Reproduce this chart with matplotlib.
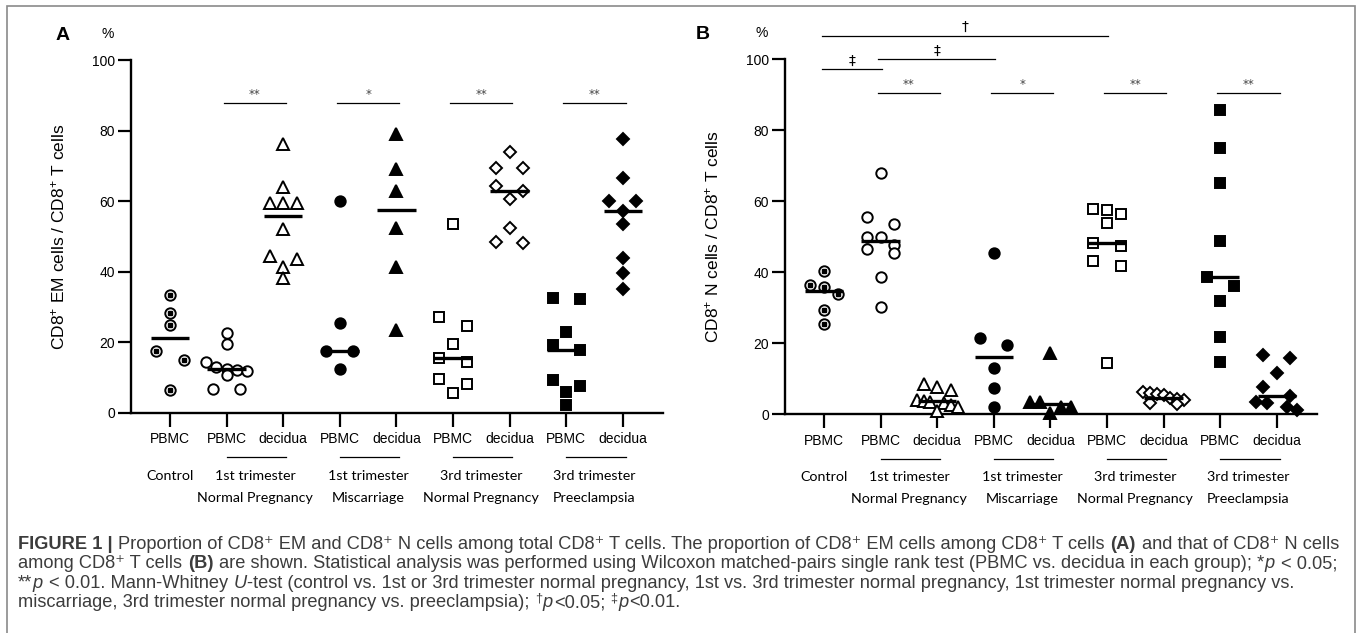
import numpy as np
import matplotlib
matplotlib.use("Agg")
import matplotlib.pyplot as plt
from matplotlib.patches import Rectangle

plt.rcParams['font.family'] = ['Liberation Sans', 'DejaVu Sans']
plt.rcParams['mathtext.fontset'] = 'custom'
plt.rcParams['mathtext.rm'] = 'Liberation Sans'
plt.rcParams['mathtext.it'] = 'Liberation Sans:italic'
plt.rcParams['mathtext.bf'] = 'Liberation Sans:bold'

# ---- data (percent) ----
tick_labels = ['PBMC', 'PBMC', 'decidua', 'PBMC', 'decidua', 'PBMC', 'decidua', 'PBMC', 'decidua']
group_names = [('Control', ''), ('1st trimester', 'Normal Pregnancy'), ('1st trimester', 'Miscarriage'),
               ('3rd trimester', 'Normal Pregnancy'), ('3rd trimester', 'Preeclampsia')]

# panel A: CD8+ EM cells / CD8+ T cells
ctrl_A = [33.5, 28.4, 25.0, 17.6, 15.0, 6.4]
np1_pbmc_A = [22.6, 19.5, 14.3, 13.0, 12.5, 12.2, 12.0, 10.8, 6.9, 6.7]
np1_dec_A = [76.1, 64.1, 59.6, 59.6, 59.6, 52.0, 44.5, 43.5, 41.4, 38.1]
mis_pbmc_A = [60.0, 25.4, 17.6, 17.6, 12.5]
mis_dec_A = [78.9, 69.0, 62.9, 52.3, 41.4, 23.5]
np3_pbmc_A = [53.4, 27.3, 24.6, 19.5, 15.7, 14.4, 9.5, 8.2, 5.6]
np3_dec_A = [74.0, 69.3, 69.3, 64.4, 62.9, 60.6, 52.5, 48.5, 48.2]
pe_pbmc_A = [32.7, 32.2, 22.9, 19.3, 17.8, 9.2, 7.5, 6.0, 2.3]
pe_dec_A = [77.6, 66.7, 60.1, 60.1, 57.2, 53.5, 43.8, 39.6, 35.0]

# panel B: CD8+ N cells / CD8+ T cells
ctrl_B = [40.5, 36.4, 35.9, 33.8, 29.4, 25.4]
np1_pbmc_B = [67.9, 55.7, 53.6, 50.0, 50.0, 47.7, 46.5, 45.4, 38.8, 30.3]
np1_dec_B = [8.5, 7.8, 6.8, 4.0, 3.8, 3.5, 3.2, 2.5, 2.0, 1.0]
mis_pbmc_B = [45.4, 21.4, 19.5, 13.0, 7.3, 2.1]
mis_dec_B = [17.2, 3.5, 3.5, 2.1, 2.1, 0.3]
np3_pbmc_B = [57.7, 57.5, 56.4, 53.8, 48.2, 47.4, 43.2, 41.8, 14.4]
np3_dec_B = [6.2, 6.0, 5.8, 5.5, 4.7, 4.3, 4.0, 3.2, 2.8]
pe_pbmc_B = [85.7, 74.9, 65.1, 48.9, 38.8, 36.2, 31.9, 21.9, 14.8]
pe_dec_B = [16.7, 15.8, 11.7, 7.8, 5.2, 3.5, 3.1, 2.1, 1.2]

data_A = [ctrl_A, np1_pbmc_A, np1_dec_A, mis_pbmc_A, mis_dec_A, np3_pbmc_A, np3_dec_A, pe_pbmc_A, pe_dec_A]
data_B = [ctrl_B, np1_pbmc_B, np1_dec_B, mis_pbmc_B, mis_dec_B, np3_pbmc_B, np3_dec_B, pe_pbmc_B, pe_dec_B]

# within-group tests (PBMC vs decidua) and between-group tests
sig_A = [(2, 3, '**'), (4, 5, '*'), (6, 7, '**'), (8, 9, '**')]
sig_B = [(2, 3, '**'), (4, 5, '*'), (6, 7, '**'), (8, 9, '**')]
between_B = [(1, 2, '‡', 97.2), (2, 4, '‡', 100.0), (1, 6, '†', 106.6)]

# caption, split into (text, style) pieces: n normal, b bold, i italic, s superscript
caption = [
    [('FIGURE 1 |', 'b'),
     (' Proportion of CD8⁺ EM and CD8⁺ N cells among total CD8⁺ T cells. The proportion of CD8⁺ EM cells '
      'among CD8⁺ T cells ', 'n'), ('(A)', 'b'), (' and that of CD8⁺ N cells', 'n')],
    [('among CD8⁺ T cells ', 'n'), ('(B)', 'b'),
     (' are shown. Statistical analysis was performed using Wilcoxon matched-pairs single rank test '
      '(PBMC vs. decidua in each group); *', 'n'), ('p', 'i'), (' < 0.05;', 'n')],
    [('**', 'n'), ('p', 'i'), (' < 0.01. Mann-Whitney ', 'n'), ('U', 'i'),
     ('-test (control vs. 1st or 3rd trimester normal pregnancy, 1st vs. 3rd trimester normal pregnancy, '
      '1st trimester normal pregnancy vs.', 'n')],
    [('miscarriage, 3rd trimester normal pregnancy vs. preeclampsia); ', 'n'), ('†', 's'), ('p', 'i'),
     ('<0.05; ', 'n'), ('‡', 's'), ('p', 'i'), ('<0.01.', 'n')],
]

markers = ['o', 'o', '^', 'o', '^', 's', 'D', 's', 'D']
filled = [False, False, False, True, True, False, False, True, True]
msizes = [7.5, 7.5, 8, 7.5, 8, 7, 6, 7, 6]


def swarm(vals, step=0.24, thr=2.85):
    vals = np.asarray(vals, float)
    order = np.argsort(-vals)
    offs = np.zeros(len(vals))
    rows, cur = [], [order[0]]
    for i in order[1:]:
        if vals[cur[0]] - vals[i] < thr:
            cur.append(i)
        else:
            rows.append(cur)
            cur = [i]
    rows.append(cur)
    for r in rows:
        n = len(r)
        if n % 2:
            g = np.arange(n) - (n - 1) / 2
        else:
            g = np.concatenate([np.arange(-(n // 2), 0), np.arange(1, n // 2 + 1)])
        sc = step * min(1.0, 1.5 / max(1.0, np.abs(g).max()))
        offs[r] = g * sc
    return offs


def panel(ax, data, ylabel, letter, letter_x, sigs, sig_y):
    for i, v in enumerate(data):
        x = i + 1
        xs = x + swarm(v)
        fc = 'k' if filled[i] else 'white'
        ax.plot(xs, v, ls='none', marker=markers[i], ms=msizes[i], mfc=fc, mec='k',
                mew=1.4, clip_on=False, zorder=3)
        if i == 0:
            ax.plot(xs, v, ls='none', marker='s', ms=2.6, mfc='k', mec='k', clip_on=False, zorder=4)
        ax.hlines(np.median(v), x - 0.34, x + 0.34, color='k', lw=2.4, zorder=5)

    ax.set_xlim(0.31, 9.71)
    ax.set_ylim(0, 100)
    ax.set_yticks([0, 20, 40, 60, 80, 100])
    ax.set_xticks(range(1, 10))
    ax.set_xticklabels(tick_labels, fontsize=10)
    ax.tick_params(axis='y', labelsize=10, length=9.5, width=1.6, pad=2)
    ax.tick_params(axis='x', length=10, width=1.6, pad=4)
    for s in ['top', 'right']:
        ax.spines[s].set_visible(False)
    for s in ['left', 'bottom']:
        ax.spines[s].set_linewidth(1.7)
    ax.set_ylabel(ylabel, fontsize=12.5, labelpad=18)

    ax.text(-0.043, 1.075, '%', transform=ax.transAxes, fontsize=10, ha='center', va='center')
    ax.text(letter_x, 1.07, letter, transform=ax.transAxes, fontsize=14, fontweight='bold',
            ha='center', va='center')

    for a, b, lab in sigs:
        ax.plot([a - 0.05, b + 0.05], [sig_y, sig_y], color='k', lw=0.9, clip_on=False)
        ax.text((a + b) / 2, sig_y + 0.6, lab, ha='center', va='bottom', fontsize=8.5,
                color='#444444', family='DejaVu Sans')

    # group labels under the axis
    tr = ax.get_xaxis_transform()
    centers = [1, 2.5, 4.5, 6.5, 8.5]
    for k, (l1, l2) in enumerate(group_names):
        c = centers[k]
        if k > 0:
            ax.plot([c - 0.5, c + 0.55], [-0.125, -0.125], transform=tr, color='k', lw=0.9, clip_on=False)
        ax.text(c, -0.178, l1, transform=tr, ha='center', va='center', fontsize=10.3, family='Lato')
        if l2:
            ax.text(c, -0.24, l2, transform=tr, ha='center', va='center', fontsize=10.3, family='Lato')


W, H = 1357, 633
fig = plt.figure(figsize=(W / 100, H / 100), dpi=100)
axA = fig.add_axes([0.0965, 0.3476, 0.3921, 0.5576])
axB = fig.add_axes([0.5785, 0.3455, 0.3920, 0.5608])

panel(axA, data_A, 'CD8$^{+}$ EM cells / CD8$^{+}$ T cells', 'A', -0.128, sig_A, 87.7)
panel(axB, data_B, 'CD8$^{+}$ N cells / CD8$^{+}$ T cells', 'B', -0.154, sig_B, 90.6)

for a, b, lab, y in between_B:
    axB.plot([a - 0.04, b + 0.02], [y, y], color='k', lw=0.9, clip_on=False)
    axB.text((a + b) / 2, y + 0.5, lab, ha='center', va='bottom', fontsize=10, family='DejaVu Sans')

# frame
fig.patches.append(Rectangle((7 / W, -0.01), 1348 / W, 1 - 6 / H + 0.01, transform=fig.transFigure,
                             fill=False, ec='#8a8a8a', lw=1.2))

# caption: pieces laid out one after another
rend = fig.canvas.get_renderer()
fs = 13.15
sp = 0.278 * fs * 100 / 72
for k, segs in enumerate(caption):
    x = 18.0
    yb = 549 + 19.4 * k
    for txt, st in segs:
        lead = len(txt) - len(txt.lstrip(' '))
        trail = len(txt) - len(txt.rstrip(' '))
        core = txt.strip(' ')
        x += lead * sp
        kw = dict(color='#3c3c3c', ha='left', va='baseline', fontsize=fs)
        y = yb
        if st == 'b':
            kw['fontweight'] = 'bold'
        elif st == 'i':
            kw['fontstyle'] = 'italic'
        elif st == 's':
            kw['fontsize'] = fs * 0.7
            y = yb - 0.4 * fs
        t = fig.text(x / W, 1 - y / H, core, **kw)
        x += t.get_window_extent(rend).width + 0.6 + trail * sp

fig.savefig('out.png', dpi=100)
